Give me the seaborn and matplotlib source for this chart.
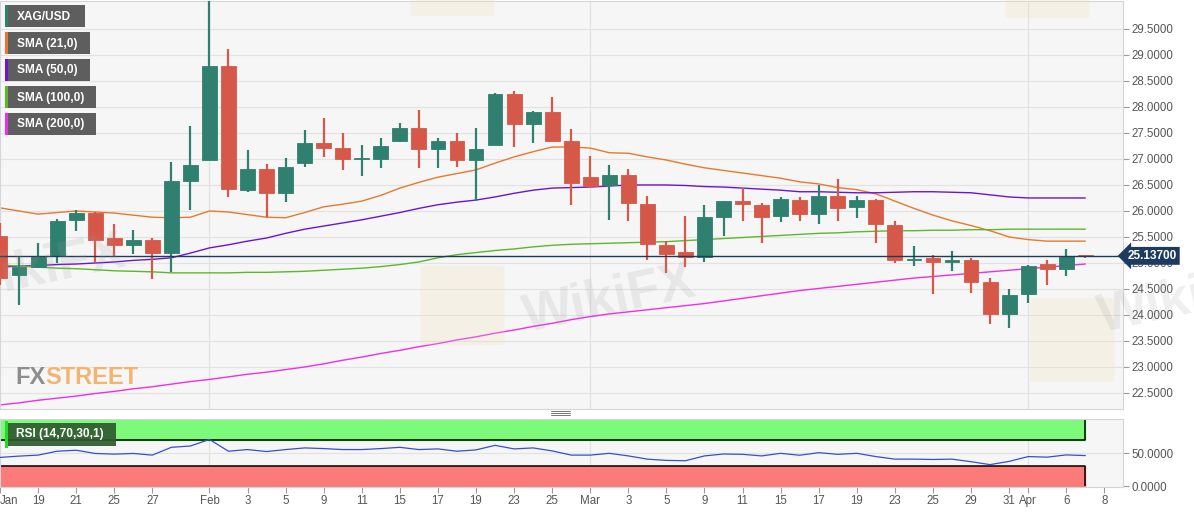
import matplotlib
matplotlib.use("Agg")
import matplotlib.pyplot as plt
from matplotlib.patches import Rectangle, FancyBboxPatch
import seaborn as sns
import pandas as pd

# --- data (XAG/USD daily) ---
dates = ["01-15", "01-18", "01-19", "01-20", "01-21", "01-22", "01-25", "01-26", "01-27", "01-28", "01-29",
         "02-01", "02-02", "02-03", "02-04", "02-05", "02-08", "02-09", "02-10", "02-11", "02-12",
         "02-15", "02-16", "02-17", "02-18", "02-19", "02-22", "02-23", "02-24", "02-25", "02-26",
         "03-01", "03-02", "03-03", "03-04", "03-05", "03-08", "03-09", "03-10", "03-11", "03-12",
         "03-15", "03-16", "03-17", "03-18", "03-19", "03-22", "03-23", "03-24", "03-25", "03-26",
         "03-29", "03-30", "03-31", "04-01", "04-05", "04-06", "04-07"]

open_ = [25.52, 24.77, 24.92, 25.13, 25.83, 25.96, 25.48, 25.35, 25.44, 25.19, 26.58,
         26.98, 28.79, 26.40, 26.81, 26.35, 26.92, 27.31, 27.21, 26.99, 27.00,
         27.35, 27.60, 27.19, 27.35, 26.98, 27.27, 28.25, 27.67, 27.90, 27.35,
         26.65, 26.50, 26.69, 26.13, 25.35, 25.21, 25.12, 25.88, 26.19, 26.12,
         25.90, 26.21, 25.94, 26.29, 26.08, 26.21, 25.73, 25.05, 25.10, 25.02,
         25.06, 24.63, 24.02, 24.40, 24.98, 24.88, 25.15]
high = [25.77, 25.12, 25.38, 25.85, 26.02, 25.98, 25.75, 25.63, 25.48, 26.94, 27.63,
        30.06, 29.12, 27.17, 26.90, 27.02, 27.56, 27.79, 27.50, 27.27, 27.40,
        27.69, 27.94, 27.40, 27.50, 27.60, 28.27, 28.31, 27.92, 28.19, 27.58,
        27.06, 26.88, 26.81, 26.29, 25.42, 25.90, 26.12, 26.20, 26.44, 26.15,
        26.27, 26.27, 26.50, 26.62, 26.29, 26.23, 25.81, 25.33, 25.15, 25.23,
        25.10, 24.71, 24.50, 24.96, 25.06, 25.27, 25.16]
low = [24.58, 24.19, 24.90, 25.00, 25.62, 25.00, 25.13, 25.17, 24.69, 24.83, 26.02,
       26.98, 26.27, 26.37, 25.88, 26.17, 26.85, 27.04, 26.79, 26.67, 26.83,
       27.33, 26.83, 26.83, 26.85, 26.19, 27.27, 27.23, 27.31, 27.35, 26.12,
       26.44, 25.83, 25.81, 25.06, 24.81, 24.92, 25.02, 25.52, 25.81, 25.38,
       25.79, 25.81, 25.75, 25.81, 25.87, 25.38, 25.00, 24.94, 24.40, 24.85,
       24.42, 23.83, 23.75, 24.23, 24.58, 24.75, 25.10]
close = [24.71, 24.92, 25.12, 25.81, 25.96, 25.44, 25.35, 25.44, 25.19, 26.58, 26.88,
         28.79, 26.42, 26.81, 26.35, 26.85, 27.31, 27.21, 27.00, 27.00, 27.25,
         27.60, 27.19, 27.35, 26.98, 27.19, 28.25, 27.67, 27.90, 27.35, 26.54,
         26.48, 26.69, 26.15, 25.37, 25.17, 25.12, 25.88, 26.19, 26.13, 25.88,
         26.23, 25.94, 26.29, 26.06, 26.21, 25.75, 25.06, 25.08, 25.02, 25.06,
         24.63, 24.02, 24.38, 24.94, 24.88, 25.13, 25.137]

sma21 = [26.06, 26.00, 25.94, 25.97, 26.00, 25.98, 25.96, 25.92, 25.88, 25.87, 25.88,
         26.00, 25.98, 25.93, 25.88, 25.87, 25.97, 26.08, 26.13, 26.19, 26.30,
         26.44, 26.55, 26.65, 26.72, 26.79, 26.92, 27.04, 27.14, 27.23, 27.23,
         27.21, 27.12, 27.11, 27.04, 26.98, 26.90, 26.83, 26.78, 26.73, 26.68,
         26.63, 26.56, 26.52, 26.45, 26.41, 26.33, 26.19, 26.05, 25.92, 25.81,
         25.72, 25.62, 25.50, 25.45, 25.42, 25.42, 25.42]
sma50 = [24.92, 24.94, 24.95, 24.97, 24.98, 25.00, 25.02, 25.05, 25.07, 25.10, 25.19,
         25.29, 25.35, 25.42, 25.48, 25.57, 25.65, 25.71, 25.77, 25.83, 25.90,
         25.97, 26.05, 26.12, 26.17, 26.21, 26.27, 26.34, 26.40, 26.44, 26.45,
         26.46, 26.48, 26.50, 26.50, 26.50, 26.49, 26.47, 26.46, 26.44, 26.42,
         26.40, 26.37, 26.37, 26.36, 26.35, 26.35, 26.36, 26.37, 26.37, 26.36,
         26.35, 26.31, 26.27, 26.25, 26.25, 26.25, 26.25]
sma100 = [24.96, 24.94, 24.92, 24.90, 24.89, 24.87, 24.85, 24.84, 24.83, 24.81, 24.81,
          24.81, 24.81, 24.82, 24.82, 24.83, 24.84, 24.86, 24.88, 24.90, 24.93,
          24.97, 25.02, 25.10, 25.16, 25.20, 25.24, 25.27, 25.31, 25.34, 25.36,
          25.37, 25.38, 25.39, 25.40, 25.41, 25.43, 25.45, 25.47, 25.49, 25.51,
          25.53, 25.55, 25.57, 25.58, 25.60, 25.61, 25.62, 25.62, 25.63, 25.63,
          25.64, 25.64, 25.65, 25.65, 25.65, 25.65, 25.65]
sma200 = [22.27, 22.31, 22.36, 22.40, 22.44, 22.49, 22.53, 22.58, 22.62, 22.67, 22.72,
          22.76, 22.81, 22.86, 22.90, 22.95, 23.00, 23.06, 23.13, 23.19, 23.26,
          23.32, 23.39, 23.45, 23.52, 23.58, 23.65, 23.71, 23.78, 23.84, 23.91,
          23.97, 24.02, 24.06, 24.10, 24.14, 24.18, 24.22, 24.27, 24.32, 24.37,
          24.42, 24.47, 24.51, 24.55, 24.59, 24.63, 24.67, 24.71, 24.74, 24.77,
          24.80, 24.83, 24.86, 24.89, 24.92, 24.95, 24.98]
rsi = [43.3, 45.3, 46.8, 52.7, 54.2, 49.3, 48.3, 49.3, 46.8, 58.6, 60.6,
       70.5, 52.7, 55.2, 52.2, 55.2, 57.7, 56.7, 55.2, 55.2, 56.7,
       58.6, 55.2, 56.2, 52.7, 54.7, 61.6, 56.2, 57.7, 53.2, 46.8,
       46.8, 49.5, 45.6, 40.7, 38.8, 38.3, 45.6, 48.5, 48.0, 45.6,
       49.5, 46.6, 50.5, 48.0, 49.5, 44.6, 40.7, 40.7, 40.2, 40.7,
       36.8, 32.4, 37.3, 44.6, 43.7, 47.1, 46.1]

last_price = 25.137
sessions = dates + ["04-08"]
tick_dates = ["01-15", "01-19", "01-21", "01-25", "01-27", "02-01", "02-03", "02-05", "02-09", "02-11",
              "02-15", "02-17", "02-19", "02-23", "02-25", "03-01", "03-03", "03-05", "03-09", "03-11",
              "03-15", "03-17", "03-19", "03-23", "03-25", "03-29", "03-31", "04-01", "04-06", "04-08"]
tick_labels = ["Jan", "19", "21", "25", "27", "Feb", "3", "5", "9", "11", "15", "17", "19", "23", "25",
               "Mar", "3", "5", "9", "11", "15", "17", "19", "23", "25", "29", "31", "Apr", "6", "8"]
month_starts = ["02-01", "03-01", "04-01"]
price_ticks = [22.5, 23.0, 23.5, 24.0, 24.5, 25.0, 25.5, 26.0, 26.5, 27.0, 27.5, 28.0, 28.5, 29.0, 29.5]

legend_names = ["XAG/USD", "SMA (21,0)", "SMA (50,0)", "SMA (100,0)", "SMA (200,0)"]
legend_colors = ["#2f806e", "#e8782e", "#6a14d8", "#5cb82a", "#ee2ee8"]

df = pd.DataFrame({"date": dates, "open": open_, "high": high, "low": low, "close": close,
                   "sma21": sma21, "sma50": sma50, "sma100": sma100, "sma200": sma200, "rsi": rsi})
df["pos"] = [sessions.index(d) for d in df["date"]]

sns.set_style("white")
plt.rcParams["font.family"] = ["Liberation Sans", "DejaVu Sans"]

W, H = 1194, 513
fig = plt.figure(figsize=(W / 100, H / 100), dpi=100)
ax = fig.add_axes([0, 1 - 409 / H, 1123 / W, 408 / H])
ax2 = fig.add_axes([0, 1 - 487 / H, 1123 / W, 68 / H], sharex=ax)

bg = "#f6f6f6"
for a in (ax, ax2):
    a.set_facecolor(bg)
    for s in a.spines.values():
        s.set_color("#d4d4dc")
        s.set_linewidth(0.8)

green, red = "#2f806e", "#d65848"
up = df["close"] >= df["open"]
colors = [green if u else red for u in up]

# wicks and bodies
ax.vlines(df["pos"], df["low"], df["high"], colors=colors, lw=1.6, zorder=3)
body_h = (df["close"] - df["open"]).abs().clip(lower=0.025)
body_b = df[["open", "close"]].min(axis=1)
ax.bar(df["pos"], body_h, bottom=body_b, width=0.78, color=colors, edgecolor=colors,
       linewidth=0.6, zorder=4)

# moving averages
sma_cols = ["sma21", "sma50", "sma100", "sma200"]
for col, c in zip(sma_cols, legend_colors[1:]):
    sns.lineplot(data=df, x="pos", y=col, ax=ax, color=c, lw=1.0, zorder=2)

ax.axhline(last_price, color="#1f3a5c", lw=1.0, zorder=5)

ax.set_ylim(22.192, 30.038)
ax.set_xlim(0.026, 58.98)
ax.set_yticks(price_ticks)
ax.yaxis.tick_right()
ax.set_yticklabels([f"{t:.4f}" for t in price_ticks])
ax.tick_params(axis="y", which="both", right=True, length=4, width=0.8, color="#9a9a9a",
               labelsize=8.3, labelcolor="#555555", pad=2)
ax.grid(axis="y", color="#e2e2e2", lw=0.8)
for m in month_starts:
    ax.axvline(sessions.index(m), color="#e2e2e2", lw=0.9, zorder=0)
    ax2.axvline(sessions.index(m), color="#e2e2e2", lw=0.9, zorder=0)
ax.tick_params(axis="x", bottom=False, labelbottom=False)
ax.set_xlabel("")
ax.set_ylabel("")

# price tag
ax.text(1.004, last_price, f"{last_price:.5f}", transform=ax.get_yaxis_transform(),
        ha="left", va="center", fontsize=8.5, fontweight="bold", color="white", zorder=10,
        bbox=dict(boxstyle="larrow,pad=0.25", fc="#1d3a5f", ec="none"), clip_on=False)

# RSI panel
x0, x1 = df["pos"].iloc[0], df["pos"].iloc[-1]
ax2.fill_between([x0, x1], 70, 100, color="#7dfa7a", zorder=1)
ax2.fill_between([x0, x1], 0, 30, color="#fb7b79", zorder=1)
ax2.plot([x0, x1], [70, 70], color="black", lw=1.1, zorder=2)
ax2.plot([x0, x1], [30, 30], color="black", lw=1.1, zorder=2)
ax2.vlines([x1], 70, 100, color="black", lw=1.1, zorder=2)
ax2.vlines([x0, x1], 0, 30, color="black", lw=1.1, zorder=2)
ax2.axhline(50, color="#e2e2e2", lw=0.8, zorder=0)
sns.lineplot(data=df, x="pos", y="rsi", ax=ax2, color="#3350d4", lw=0.9, zorder=3)
ax2.set_ylim(-1.5, 101.5)
ax2.set_yticks([0, 50])
ax2.yaxis.tick_right()
ax2.set_yticklabels(["0.0000", "50.0000"])
ax2.tick_params(axis="y", right=True, length=4, width=0.8, color="#9a9a9a",
                labelsize=8.3, labelcolor="#555555", pad=2)
ax2.set_xticks([sessions.index(d) for d in tick_dates])
ax2.set_xticklabels(tick_labels)
ax2.tick_params(axis="x", bottom=True, length=4, width=0.8, color="#9a9a9a",
                labelsize=8.3, labelcolor="#555555", pad=2)
ax2.get_xticklabels()[0].set_horizontalalignment("left")
ax2.set_xlabel("")
ax2.set_ylabel("")


def px_rect(x, y, w, h, color, z=20, alpha=1.0):
    fig.add_artist(Rectangle((x / W, 1 - (y + h) / H), w / W, h / H, transform=fig.transFigure,
                             fc=color, ec="none", zorder=z, alpha=alpha))


# legend boxes
box_w = [80, 85, 85, 91, 91]
for k, (name, c) in enumerate(zip(legend_names, legend_colors)):
    y = 5 + 27 * k
    px_rect(5, y, box_w[k], 22, "#5e5e5e")
    px_rect(5, y, 3, 22, c, z=21)
    fig.text(17 / W, 1 - (y + 11.5) / H, name, color="white", fontsize=8.6, fontweight="bold",
             ha="left", va="center", zorder=22)

# RSI label
px_rect(5, 423, 111, 23, "#2f5a2f", alpha=0.92)
px_rect(5, 421, 3, 27, "#22dd22", z=21)
fig.text(16 / W, 1 - 434.5 / H, "RSI (14,70,30,1)", color="white", fontsize=8.6,
         fontweight="bold", ha="left", va="center", zorder=22)

# watermarks
fx = fig.text(15 / W, 1 - 377 / H, "FX", color="#8d8d8d", fontsize=17, fontweight="bold",
              ha="left", va="center", zorder=1)
ax.annotate("STREET", xy=(1, 0), xycoords=fx, ha="left", va="bottom", color="#f2b46e",
            fontsize=17, fontweight="bold", zorder=1, annotation_clip=False)
for (wx, wy) in [(40, 270), (610, 300), (1185, 300)]:
    fig.text(wx / W, 1 - wy / H, "WikiFX", color="#999999", alpha=0.16, fontsize=38,
             fontweight="bold", rotation=12, ha="center", va="center", zorder=1)
for (lx, ly, lh) in [(425, 268, 75), (1035, 300, 80), (415, 0, 14), (1010, 0, 16)]:
    fig.add_artist(FancyBboxPatch((lx / W, 1 - (ly + lh) / H), 75 / W, lh / H,
                                  boxstyle="round,pad=0.004", transform=fig.transFigure,
                                  fc="#f1dfb0", ec="none", alpha=0.22, zorder=1))

# panel resize grip
for gy in (411, 413, 415):
    fig.add_artist(plt.Line2D([551 / W, 570 / W], [1 - gy / H, 1 - gy / H],
                              transform=fig.transFigure, color="#777777", lw=0.7))

fig.savefig("out.png", dpi=100, facecolor="white")
